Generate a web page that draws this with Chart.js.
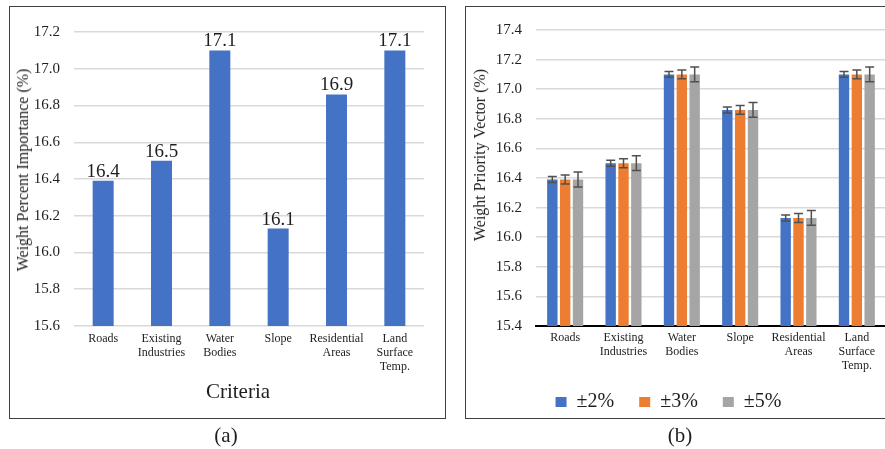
<!DOCTYPE html>
<html>
<head>
<meta charset="utf-8">
<script src="https://cdn.jsdelivr.net/npm/chart.js@4.4.0/dist/chart.umd.min.js"></script>
<style>
body { margin:0; width:885px; height:449px; overflow:hidden; background:#fff; position:relative;
       font-family:'Liberation Serif','Times New Roman',serif; color:#1e1e1e; }
.panel { position:absolute; border:1px solid #404040; box-sizing:border-box; }
.cap { position:absolute; transform:translate(-50%,-50%); white-space:nowrap; line-height:1; }
.ytitle { position:absolute; font-size:16px; white-space:nowrap; line-height:1;
          transform:translate(-50%,-50%) rotate(-90deg); }
canvas { position:absolute; }
</style>
</head>
<body>
<div class="panel" style="left:9px;top:6px;width:437px;height:413px"></div>
<div class="panel" style="left:465px;top:6px;width:500px;height:413px"></div>

<canvas id="chartA" width="434" height="410" style="left:10px;top:7px"></canvas>
<canvas id="chartB" width="435" height="421" style="left:451px;top:7px"></canvas>

<div class="ytitle" style="left:23px;top:170px">Weight Percent Importance (%)</div>
<div class="cap" style="left:238px;top:391px;font-size:21px">Criteria</div>
<div class="ytitle" style="left:480px;top:155px">Weight Priority Vector (%)</div>
<div class="cap" style="left:226px;top:435px;font-size:21px">(a)</div>
<div class="cap" style="left:680px;top:435px;font-size:21px">(b)</div>

<script>
// categories (same for both panels)
var criteria = [['Roads'], ['Existing', 'Industries'], ['Water', 'Bodies'], ['Slope'],
                ['Residential', 'Areas'], ['Land', 'Surface', 'Temp.']];

// (a) weight percent importance
var weightA = [16.39, 16.50, 17.10, 16.13, 16.86, 17.10];

// (b) weight priority vector for each sensitivity level
var sensLabels = ['±2%', '±3%', '±5%'];
var weightB2 = [16.39, 16.50, 17.10, 16.86, 16.13, 17.10];
var weightB3 = [16.39, 16.50, 17.10, 16.86, 16.13, 17.10];
var weightB5 = [16.39, 16.50, 17.10, 16.86, 16.13, 17.10];
var errB2 = [0.02, 0.02, 0.02, 0.02, 0.02, 0.02];
var errB3 = [0.03, 0.03, 0.03, 0.03, 0.03, 0.03];
var errB5 = [0.05, 0.05, 0.05, 0.05, 0.05, 0.05];

var serif = "'Liberation Serif', 'Times New Roman', serif";
var textColor = '#1e1e1e';
var gridColor = '#d9d9d9';

Chart.defaults.font.family = serif;
Chart.defaults.color = textColor;
Chart.defaults.animation = false;

// value labels above the bars of (a)
var barValues = {
	id: 'barValues',
	afterDatasetsDraw: function(chart) {
		var ctx = chart.ctx;
		var ds = chart.data.datasets[0];
		ctx.save();
		ctx.font = '19px ' + serif;
		ctx.fillStyle = textColor;
		ctx.textAlign = 'center';
		ctx.textBaseline = 'alphabetic';
		chart.getDatasetMeta(0).data.forEach(function(bar, i) {
			ctx.fillText(ds.data[i].toFixed(1), bar.x, bar.y - 4);
		});
		ctx.restore();
	}
};

// error bars for (b)
var errorBars = {
	id: 'errorBars',
	afterDatasetsDraw: function(chart) {
		var ctx = chart.ctx;
		var y = chart.scales.y;
		ctx.save();
		ctx.strokeStyle = '#505050';
		ctx.lineWidth = 1.5;
		chart.data.datasets.forEach(function(ds, i) {
			chart.getDatasetMeta(i).data.forEach(function(bar, j) {
				var top = y.getPixelForValue(ds.data[j] + ds.errors[j]);
				var bottom = y.getPixelForValue(ds.data[j] - ds.errors[j]);
				ctx.beginPath();
				ctx.moveTo(bar.x, top); ctx.lineTo(bar.x, bottom);
				ctx.moveTo(bar.x - 4.5, top); ctx.lineTo(bar.x + 4.5, top);
				ctx.moveTo(bar.x - 4.5, bottom); ctx.lineTo(bar.x + 4.5, bottom);
				ctx.stroke();
			});
		});
		ctx.restore();
	}
};

// pull the legend a little closer to the axis labels
var legendNudge = {
	id: 'legendNudge',
	afterLayout: function(chart) {
		if (chart.legend) {
			chart.legend.top -= 6;
			chart.legend.bottom -= 6;
		}
	}
};

function tickFmt(v) { return Number(v).toFixed(1); }

new Chart(document.getElementById('chartA'), {
	type: 'bar',
	data: {
		labels: criteria,
		datasets: [{
			data: weightA,
			backgroundColor: '#4472c4',
			categoryPercentage: 1,
			barPercentage: 0.36
		}]
	},
	options: {
		responsive: false,
		layout: { padding: { top: 25, right: 20, left: 0, bottom: 0 } },
		plugins: { legend: { display: false }, tooltip: { enabled: false } },
		scales: {
			x: {
				grid: { display: false, drawTicks: false },
				border: { display: false },
				ticks: { font: { size: 12, lineHeight: 1.15 }, padding: 6, maxRotation: 0, autoSkip: false },
				afterFit: function(s) { s.height = 91; }
			},
			y: {
				min: 15.6, max: 17.2,
				ticks: { stepSize: 0.2, padding: 14, font: { size: 15 }, callback: tickFmt },
				grid: { color: gridColor, lineWidth: 1.5, drawTicks: false },
				border: { display: false },
				afterFit: function(s) { s.width = 64; }
			}
		}
	},
	plugins: [barValues]
});

new Chart(document.getElementById('chartB'), {
	type: 'bar',
	data: {
		labels: criteria,
		datasets: [
			{ label: sensLabels[0], data: weightB2, errors: errB2, backgroundColor: '#4472c4' },
			{ label: sensLabels[1], data: weightB3, errors: errB3, backgroundColor: '#ed7d31' },
			{ label: sensLabels[2], data: weightB5, errors: errB5, backgroundColor: '#a5a5a5' }
		]
	},
	options: {
		responsive: false,
		datasets: { bar: { categoryPercentage: 0.66, barPercentage: 0.81 } },
		layout: { padding: { top: 20, right: 0, left: 0, bottom: 0 } },
		plugins: {
			tooltip: { enabled: false },
			legend: {
				position: 'bottom',
				labels: { boxWidth: 11, boxHeight: 10, padding: 25, font: { size: 20 }, color: textColor }
			}
		},
		scales: {
			x: {
				grid: { display: false, drawTicks: false },
				border: { display: true, color: '#000', width: 2 },
				ticks: { font: { size: 12, lineHeight: 1.15 }, padding: 5, maxRotation: 0, autoSkip: false },
				afterFit: function(s) { s.height = 47; }
			},
			y: {
				min: 15.4, max: 17.4,
				ticks: { stepSize: 0.2, padding: 14, font: { size: 15 }, callback: tickFmt },
				grid: {
					color: function(c) { return c.tick && c.tick.value <= 15.4 ? 'rgba(0,0,0,0)' : gridColor; },
					lineWidth: 1.5, drawTicks: false
				},
				border: { display: false },
				afterFit: function(s) { s.width = 85; }
			}
		}
	},
	plugins: [errorBars, legendNudge]
});
</script>
</body>
</html>
